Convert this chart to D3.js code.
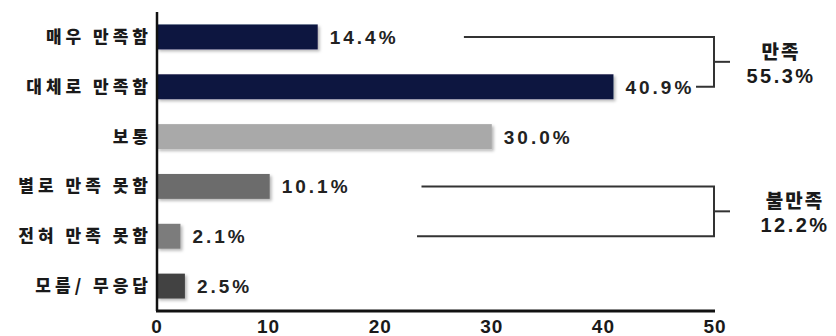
<!DOCTYPE html>
<html>
<head>
<meta charset="utf-8">
<script src="https://cdn.jsdelivr.net/npm/d3@7"></script>
<style>
  html, body { margin: 0; padding: 0; background: #ffffff; }
  svg { display: block; }
</style>
</head>
<body>
<script>
// ---- Data ----
const categories = ["매우 만족함", "대체로 만족함", "보통", "별로 만족 못함", "전혀 만족 못함", "모름/ 무응답"];
const values = [14.4, 40.9, 30.0, 10.1, 2.1, 2.5];
const xTicks = [0, 10, 20, 30, 40, 50];
const groupNames = ["만족", "불만족"];
const groupTotals = ["55.3%", "12.2%"];
const groupMembers = [["매우 만족함", "대체로 만족함"], ["별로 만족 못함", "전혀 만족 못함"]];
const groupLineStarts = [[27.5, 48.3], [23.7, 23.3]]; // in axis units

// ---- Styles ----
const barColors = ["#0b1240", "#0b1240", "#a9a9a9", "#6c6c6c", "#7b7b7b", "#424242"];
const W = 836, H = 336;
const margin = { left: 157, right: 120, top: 12, bottom: 25 };

const svg = d3.select("body").append("svg").attr("width", W).attr("height", H);

const defs = svg.append("defs");
const f = defs.append("filter").attr("id", "sh").attr("x", "-10%").attr("y", "-30%").attr("width", "130%").attr("height", "180%");
f.append("feDropShadow").attr("dx", 2).attr("dy", 2).attr("stdDeviation", 1.5).attr("flood-color", "#000").attr("flood-opacity", 0.28);

const x = d3.scaleLinear().domain([0, 50]).range([margin.left, 715]);
const y = d3.scaleBand().domain(categories).range([margin.top, H - margin.bottom]).paddingInner(0.5).paddingOuter(0.25);

// Bars
svg.append("g").selectAll("rect").data(values).join("rect")
  .attr("x", x(0))
  .attr("y", (d, i) => y(categories[i]))
  .attr("width", d => x(d) - x(0))
  .attr("height", y.bandwidth())
  .attr("fill", (d, i) => barColors[i])
  .attr("filter", "url(#sh)");

// Value labels
svg.append("g").selectAll("text").data(values).join("text")
  .attr("x", d => x(d) + 12)
  .attr("y", (d, i) => y(categories[i]) + y.bandwidth() / 2 + 7)
  .attr("font-family", "'Liberation Sans', Arial, sans-serif")
  .attr("font-weight", "bold")
  .attr("font-size", 19)
  .attr("letter-spacing", 3)
  .attr("fill", "#222")
  .text(d => d.toFixed(1) + "%");

// Category labels
svg.append("g").selectAll("text").data(categories).join("text")
  .attr("x", margin.left - 5)
  .attr("y", d => y(d) + y.bandwidth() / 2 + 6)
  .attr("text-anchor", "end")
  .attr("font-family", "'Noto Sans CJK KR', sans-serif")
  .attr("font-weight", 900)
  .attr("font-size", 17)
  .attr("letter-spacing", 4)
  .attr("fill", "#1a1a1a")
  .text(d => d);

// Axes lines
svg.append("line")
  .attr("x1", x(0)).attr("x2", x(0))
  .attr("y1", margin.top).attr("y2", H - margin.bottom)
  .attr("stroke", "#111").attr("stroke-width", 2.5);
svg.append("line")
  .attr("x1", x(0) - 1).attr("x2", x(50))
  .attr("y1", H - margin.bottom).attr("y2", H - margin.bottom)
  .attr("stroke", "#111").attr("stroke-width", 3);

// X tick labels
svg.append("g").selectAll("text").data(xTicks).join("text")
  .attr("x", d => x(d))
  .attr("y", H - 3)
  .attr("text-anchor", "middle")
  .attr("font-family", "'Liberation Sans', Arial, sans-serif")
  .attr("font-weight", "bold")
  .attr("font-size", 19)
  .attr("letter-spacing", 1)
  .attr("fill", "#1a1a1a")
  .text(d => d);

// Group brackets
const bx = x(50) - 1;
groupNames.forEach((name, gi) => {
  const mem = groupMembers[gi];
  const yTop = y(mem[0]) + y.bandwidth() / 2;
  const yBot = y(mem[1]) + y.bandwidth() / 2;
  const g = svg.append("g").attr("stroke", "#333").attr("stroke-width", 2).attr("fill", "none");
  g.append("path").attr("d", `M${x(groupLineStarts[gi][0])},${yTop}H${bx}V${yBot}H${x(groupLineStarts[gi][1])}`);
  const ym = (yTop + yBot) / 2;
  g.append("line").attr("x1", bx).attr("x2", bx + 16).attr("y1", ym).attr("y2", ym);
  const cx = gi === 0 ? 781 : 795;
  svg.append("text")
    .attr("x", cx).attr("y", ym - 3)
    .attr("text-anchor", "middle")
    .attr("font-family", "'Noto Sans CJK KR', sans-serif")
    .attr("font-weight", 900)
    .attr("font-size", 19)
    .attr("letter-spacing", 2)
    .attr("fill", "#1a1a1a")
    .text(name);
  svg.append("text")
    .attr("x", cx).attr("y", ym + 21)
    .attr("text-anchor", "middle")
    .attr("font-family", "'Liberation Sans', Arial, sans-serif")
    .attr("font-weight", "bold")
    .attr("font-size", 20)
    .attr("letter-spacing", 2.5)
    .attr("fill", "#1a1a1a")
    .text(groupTotals[gi]);
});
</script>
</body>
</html>
